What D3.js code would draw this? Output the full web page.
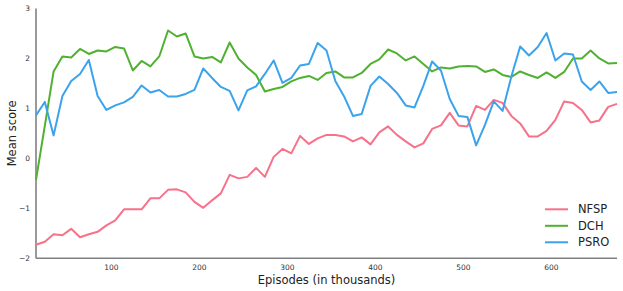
<!DOCTYPE html>
<html>
<head>
<meta charset="utf-8">
<script src="https://cdn.jsdelivr.net/npm/d3@7/dist/d3.min.js"></script>
<style>
  html, body { margin: 0; padding: 0; background: #fff; }
  svg { display: block; font-family: "DejaVu Sans", sans-serif; }
</style>
</head>
<body>
<svg id="chart" width="623" height="291"></svg>
<script>
const episodes = [15, 25, 35, 45, 55, 65, 75, 85, 95, 105, 115, 125, 135, 145, 155, 165, 175, 185, 195, 205,
  215, 225, 235, 245, 255, 265, 275, 285, 295, 305, 315, 325, 335, 345, 355, 365, 375, 385, 395, 405,
  415, 425, 435, 445, 455, 465, 475, 485, 495, 505, 515, 525, 535, 545, 555, 565, 575, 585, 595, 605,
  615, 625, 635, 645, 655, 665, 675];

const nfsp = [-1.73, -1.67, -1.52, -1.54, -1.41, -1.58, -1.52, -1.47, -1.34, -1.24,
  -1.02, -1.02, -1.02, -0.80, -0.80, -0.63, -0.62, -0.68, -0.87, -0.99,
  -0.84, -0.70, -0.33, -0.40, -0.37, -0.19, -0.37, 0.03, 0.19, 0.10,
  0.45, 0.29, 0.40, 0.47, 0.47, 0.44, 0.34, 0.42, 0.28, 0.52,
  0.64, 0.47, 0.34, 0.22, 0.30, 0.59, 0.66, 0.91, 0.66, 0.64,
  1.05, 0.97, 1.17, 1.11, 0.85, 0.70, 0.44, 0.44, 0.55, 0.77,
  1.14, 1.11, 0.97, 0.72, 0.76, 1.03, 1.09];

const dch = [-0.43, 0.65, 1.74, 2.04, 2.02, 2.19, 2.09, 2.16, 2.14, 2.23,
  2.20, 1.76, 1.95, 1.84, 2.04, 2.56, 2.44, 2.50, 2.04, 2.00,
  2.03, 1.92, 2.32, 2.00, 1.82, 1.67, 1.34, 1.39, 1.43, 1.54,
  1.61, 1.65, 1.57, 1.71, 1.74, 1.62, 1.62, 1.71, 1.89, 1.98,
  2.18, 2.10, 1.96, 2.04, 1.89, 1.74, 1.82, 1.80, 1.84, 1.85,
  1.84, 1.73, 1.78, 1.67, 1.63, 1.74, 1.67, 1.61, 1.72, 1.61,
  1.73, 2.00, 2.00, 2.16, 2.00, 1.90, 1.91];

const psro = [0.86, 1.13, 0.46, 1.25, 1.55, 1.69, 1.97, 1.25, 0.97, 1.06,
  1.12, 1.23, 1.46, 1.32, 1.37, 1.24, 1.24, 1.29, 1.37, 1.80,
  1.61, 1.43, 1.35, 0.96, 1.36, 1.44, 1.69, 1.96, 1.51, 1.61,
  1.86, 1.89, 2.31, 2.16, 1.55, 1.24, 0.85, 0.89, 1.45, 1.64,
  1.49, 1.31, 1.06, 1.02, 1.45, 1.94, 1.76, 1.19, 0.85, 0.83,
  0.26, 0.67, 1.14, 0.95, 1.64, 2.24, 2.06, 2.23, 2.51, 1.96,
  2.10, 2.08, 1.54, 1.37, 1.54, 1.31, 1.33];

const seriesNames = ["NFSP", "DCH", "PSRO"];
const seriesColors = ["#f77189", "#50b131", "#3ba3ec"];
const xTicks = [100, 200, 300, 400, 500, 600];
const yTicks = [-2, -1, 0, 1, 2, 3];

(function draw() {
const svg = d3.select("#chart");
const mLeft = 36, mRight = 617, mTop = 8.5, mBottom = 258.3;

const x = d3.scaleLinear().domain([15, 675]).range([mLeft, mRight]);
const y = d3.scaleLinear().domain([-2, 3]).range([mBottom, mTop]);

const fmt = v => (v < 0 ? "\u2212" + Math.abs(v) : String(v));

const xAxis = svg.append("g").attr("transform", `translate(0,${mBottom})`)
  .call(d3.axisBottom(x).tickValues(xTicks).tickSize(0).tickPadding(6).tickFormat(fmt));
const yAxis = svg.append("g").attr("transform", `translate(${mLeft},0)`)
  .call(d3.axisLeft(y).tickValues(yTicks).tickSize(0).tickPadding(6).tickFormat(fmt));

[xAxis, yAxis].forEach(g => {
  g.select(".domain").attr("stroke", "#808080").attr("stroke-width", 1.6);
  g.selectAll("text").attr("font-family", "DejaVu Sans").attr("font-size", 7.5).attr("fill", "#333");
});
xAxis.select(".domain").attr("d", `M${mLeft},0H${mRight}`);
yAxis.select(".domain").attr("d", `M0,0V${mTop - mBottom}`).attr("transform", `translate(0,${mBottom})`);

const allSeries = [nfsp, dch, psro];
const line = d3.line().x((d, i) => x(episodes[i])).y(d => y(d));
allSeries.forEach((vals, k) => {
  svg.append("path").datum(vals)
    .attr("fill", "none")
    .attr("stroke", seriesColors[k])
    .attr("stroke-width", 2)
    .attr("stroke-linejoin", "round")
    .attr("d", line);
});

svg.append("text")
  .attr("x", (mLeft + mRight) / 2).attr("y", 284)
  .attr("text-anchor", "middle")
  .attr("font-size", 11.5).attr("fill", "#222")
  .text("Episodes (in thousands)");
svg.append("text")
  .attr("transform", `translate(16,${(mTop + mBottom) / 2}) rotate(-90)`)
  .attr("text-anchor", "middle")
  .attr("font-size", 11.5).attr("fill", "#222")
  .text("Mean score");

const legend = svg.append("g");
seriesNames.forEach((name, k) => {
  const ly = 209.3 + k * 16.5;
  legend.append("line")
    .attr("x1", 545).attr("x2", 568).attr("y1", ly).attr("y2", ly)
    .attr("stroke", seriesColors[k]).attr("stroke-width", 2);
  legend.append("text")
    .attr("x", 578).attr("y", ly).attr("dy", "0.35em")
    .attr("font-size", 11.5).attr("fill", "#222")
    .text(name);
});
})();
</script>
</body>
</html>
